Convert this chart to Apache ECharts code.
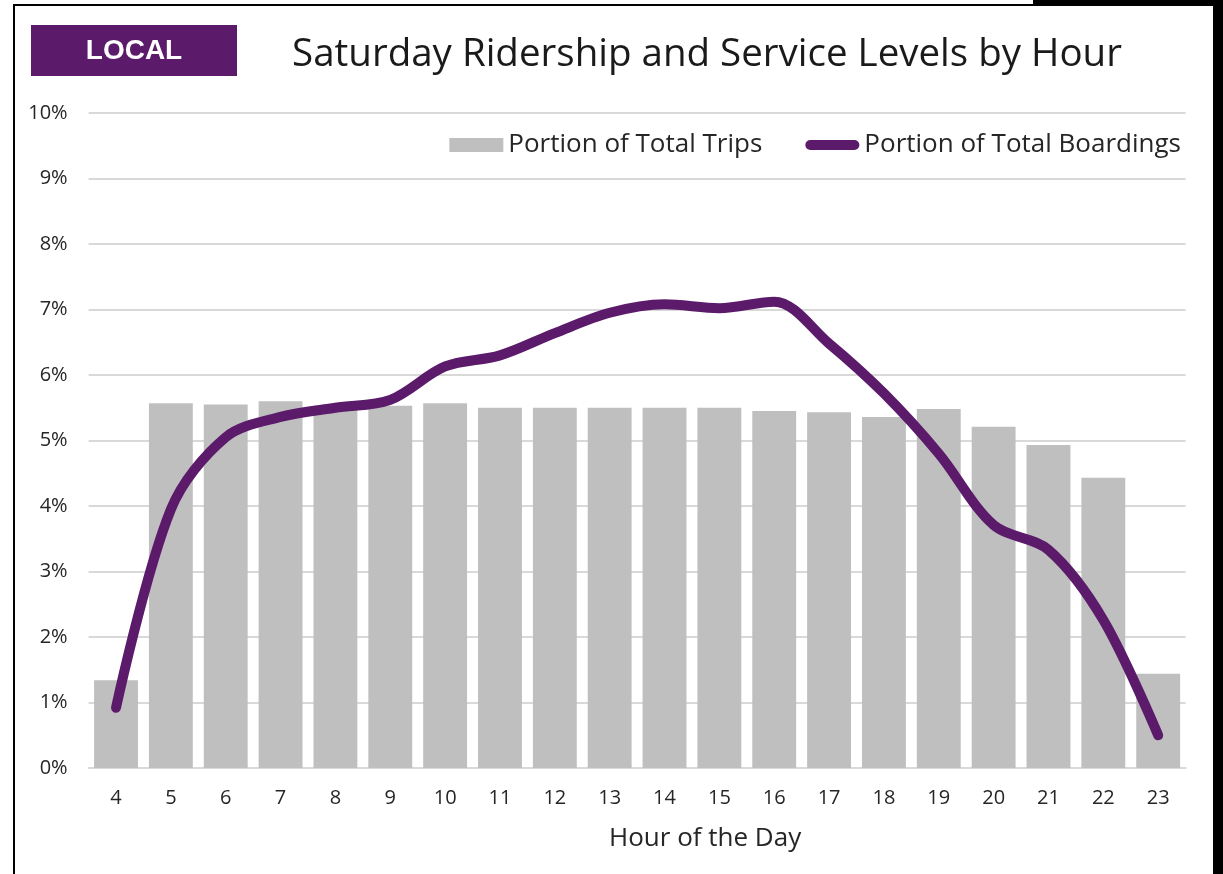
<!DOCTYPE html>
<html>
<head>
<meta charset="utf-8">
<script src="https://cdn.jsdelivr.net/npm/echarts@6/dist/echarts.min.js"></script>
<style>
  html, body { margin: 0; padding: 0; background: #fff; }
  #chart { width: 1223px; height: 874px; }
</style>
</head>
<body>
<div id="chart"></div>
<script>
// hour of day categories
const hours = ['4', '5', '6', '7', '8', '9', '10', '11', '12', '13', '14', '15', '16', '17', '18', '19', '20', '21', '22', '23']
// share of total trips (%) - bars
const tripsShare = [1.34, 5.57, 5.55, 5.60, 5.53, 5.53, 5.57, 5.50, 5.50, 5.50, 5.50, 5.50, 5.45, 5.43, 5.36, 5.48, 5.21, 4.93, 4.43, 1.44]
// share of total boardings (%) - line
const boardingsShare = [0.92, 3.95, 5.05, 5.36, 5.50, 5.62, 6.13, 6.30, 6.64, 6.95, 7.08, 7.02, 7.12, 6.48, 5.72, 4.80, 3.71, 3.33, 2.26, 0.50]

const purple = '#5B1A6A'
const textColor = '#262626'
const font = 'Open Sans'

const chart = echarts.init(document.getElementById('chart'))

const option = {
  backgroundColor: '#fff',
  animation: false,
  title: {
    text: 'Saturday Ridership and Service Levels by Hour',
    left: 702,
    top: 28,
    textAlign: 'center',
    textStyle: {
      fontFamily: font,
      fontWeight: 'normal',
      fontSize: 38.5,
      lineHeight: 44,
      color: '#1a1a1a'
    }
  },
  legend: {
    right: 37,
    top: 127,
    itemGap: 43,
    itemWidth: 54,
    itemHeight: 14,
    itemStyle: { borderWidth: 0 },
    textStyle: { fontFamily: font, fontSize: 26, color: textColor },
    data: [
      { name: 'Portion of Total Trips', icon: 'rect' },
      {
        name: 'Portion of Total Boardings',
        icon: 'path://M0,0 M54,14 M5,2 L49,2 A5,5 0 0 1 49,12 L5,12 A5,5 0 0 1 5,2 Z',
        itemStyle: { color: purple, borderWidth: 0 }
      }
    ]
  },
  grid: {
    left: 88.6,
    right: 37.4,
    top: 113,
    bottom: 106,
    containLabel: false
  },
  xAxis: {
    type: 'category',
    data: hours,
    name: 'Hour of the Day',
    nameLocation: 'middle',
    nameGap: 58,
    nameTextStyle: { fontFamily: font, fontSize: 26, color: textColor, padding: [0, 0, 0, 136] },
    axisLine: { lineStyle: { color: '#D9D9D9', width: 2 } },
    axisTick: { show: false },
    axisLabel: { fontFamily: font, fontSize: 20, color: textColor, margin: 20 }
  },
  yAxis: {
    type: 'value',
    min: 0,
    max: 10,
    interval: 1,
    axisLine: { show: false },
    axisTick: { show: false },
    splitLine: { lineStyle: { color: '#D9D9D9', width: 2 } },
    axisLabel: { formatter: '{value}%', fontFamily: font, fontSize: 20, color: textColor, margin: 21 }
  },
  series: [
    {
      name: 'Portion of Total Trips',
      type: 'bar',
      data: tripsShare,
      barCategoryGap: '20%',
      itemStyle: { color: '#BFBFBF' }
    },
    {
      name: 'Portion of Total Boardings',
      type: 'line',
      data: boardingsShare,
      smooth: 0.33,
      symbol: 'none',
      color: purple,
      lineStyle: { color: purple, width: 10, cap: 'round', join: 'round' }
    }
  ],
  graphic: [
    // frame around the slide region
    { type: 'rect', shape: { x: 13, y: 4, width: 1020, height: 2 }, style: { fill: '#000' } },
    { type: 'rect', shape: { x: 13, y: 4, width: 2, height: 870 }, style: { fill: '#000' } },
    { type: 'rect', shape: { x: 1033, y: 0, width: 190, height: 6 }, style: { fill: '#000' } },
    { type: 'rect', shape: { x: 1213, y: 0, width: 10, height: 874 }, style: { fill: '#000' } },
    // LOCAL tag
    { type: 'rect', shape: { x: 31, y: 25, width: 206, height: 51 }, style: { fill: purple } },
    {
      type: 'text',
      x: 134,
      y: 51,
      style: {
        text: 'LOCAL',
        fill: '#fff',
        font: 'bold 28px "Liberation Sans", Arial, sans-serif',
        textAlign: 'center',
        textVerticalAlign: 'middle'
      }
    }
  ]
}

chart.setOption(option)
</script>
</body>
</html>
